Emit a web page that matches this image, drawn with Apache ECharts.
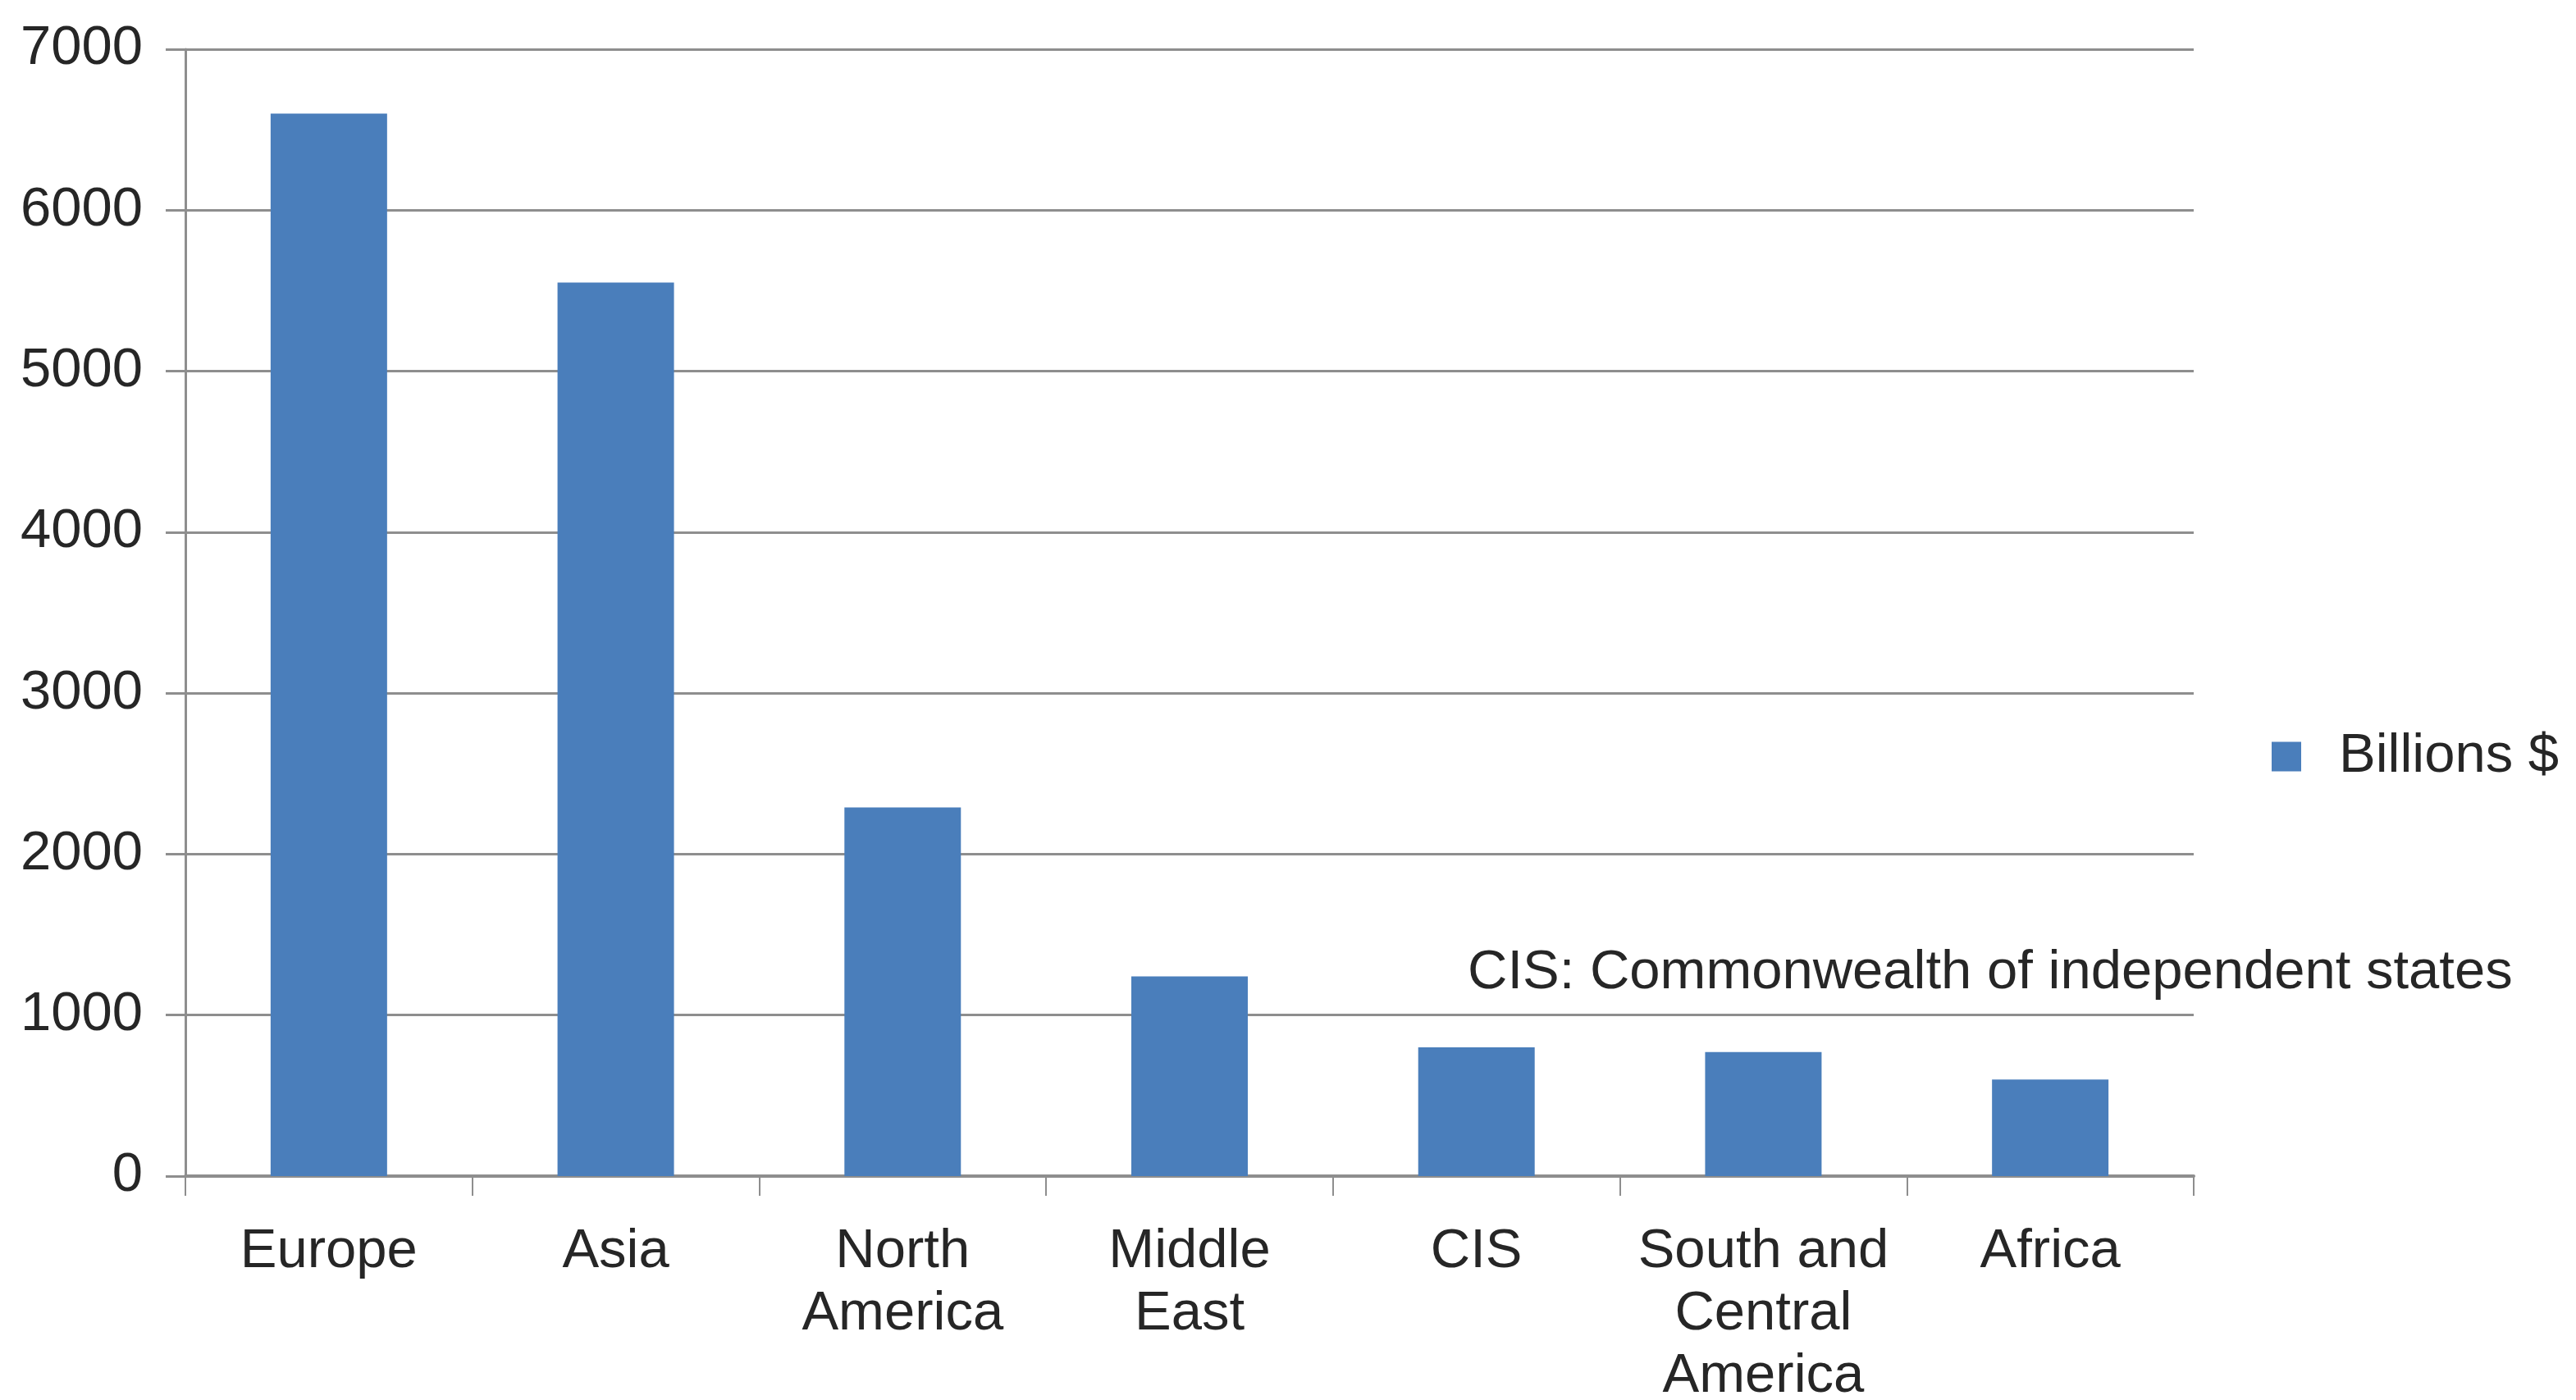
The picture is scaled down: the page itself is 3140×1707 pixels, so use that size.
<!DOCTYPE html>
<html>
<head>
<meta charset="utf-8">
<title>Billions $ by region</title>
<script src="https://cdn.jsdelivr.net/npm/echarts@6/dist/echarts.min.js"></script>
<style>
  html, body { margin: 0; padding: 0; background: #ffffff; }
  #chart { width: 3140px; height: 1707px; }
</style>
</head>
<body>
<div id="chart"></div>
<script>
// Regions (line breaks where the axis label wraps)
var categories = ['Europe', 'Asia', 'North\nAmerica', 'Middle\nEast', 'CIS', 'South and\nCentral\nAmerica', 'Africa'];
// Billions of dollars per region
var billions = [6600, 5550, 2290, 1240, 800, 770, 600];
var yTicks = { min: 0, max: 7000, interval: 1000 };
var seriesName = 'Billions $';
var noteText = 'CIS: Commonwealth of independent states';

var FONT = '"Liberation Sans", Arial, sans-serif';
var TEXT = '#262626';
var GRID_GRAY = '#8e8e8e';
var BAR_BLUE = '#4a7ebb';

var chart = echarts.init(document.getElementById('chart'), null, { renderer: 'canvas' });

chart.setOption({
  backgroundColor: '#ffffff',
  animation: false,
  grid: {
    left: 226, right: 466, top: 60, bottom: 273,
    containLabel: false,
    outerBoundsMode: 'none'
  },
  legend: {
    data: [seriesName],
    left: 2764,
    top: 884,
    orient: 'vertical',
    icon: 'rect',
    itemWidth: 36,
    itemHeight: 36,
    textStyle: { fontFamily: FONT, fontSize: 67, color: TEXT, padding: [0, 0, 0, 41] }
  },
  xAxis: {
    type: 'category',
    data: categories,
    boundaryGap: true,
    axisLine: { show: true, lineStyle: { color: GRID_GRAY, width: 4 } },
    axisTick: { show: true, alignWithLabel: false, length: 24, lineStyle: { color: GRID_GRAY, width: 2 } },
    axisLabel: {
      interval: 0,
      margin: 55,
      fontFamily: FONT,
      fontSize: 67,
      lineHeight: 76,
      color: TEXT,
      align: 'center'
    },
    splitLine: { show: false }
  },
  yAxis: {
    type: 'value',
    min: yTicks.min,
    max: yTicks.max,
    interval: yTicks.interval,
    axisLine: { show: true, lineStyle: { color: GRID_GRAY, width: 3 } },
    axisTick: { show: true, length: 24, lineStyle: { color: GRID_GRAY, width: 3 } },
    axisLabel: {
      margin: 52,
      fontFamily: FONT,
      fontSize: 67,
      color: TEXT,
      formatter: function (v) { return String(v); }
    },
    splitLine: { show: true, lineStyle: { color: GRID_GRAY, width: 3 } }
  },
  series: [{
    name: seriesName,
    type: 'bar',
    data: billions,
    barWidth: '40.6%',
    itemStyle: { color: BAR_BLUE },
    z: 3
  }],
  graphic: [{
    type: 'text',
    left: 1789,
    top: 1153,
    style: { text: noteText, font: '67px ' + FONT, fill: TEXT }
  }]
});
</script>
</body>
</html>
